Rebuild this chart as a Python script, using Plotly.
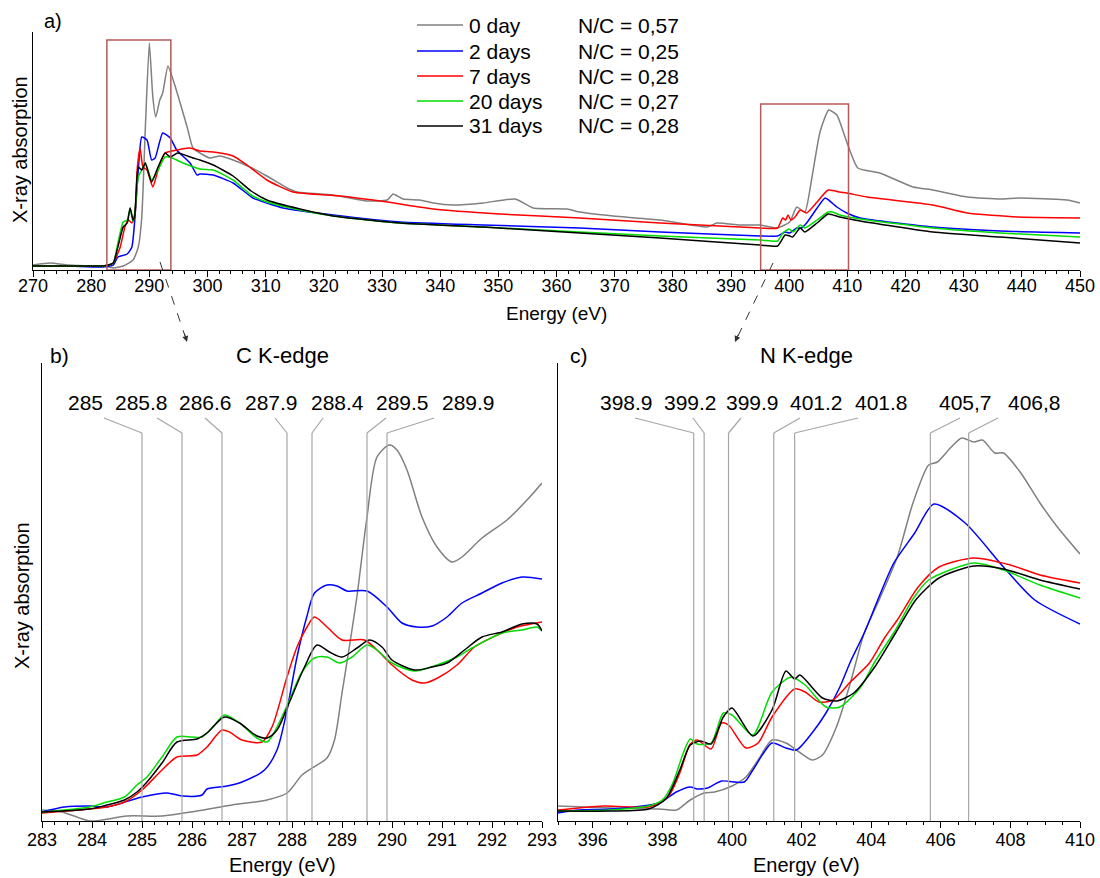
import plotly.graph_objects as go

W, H = 1100, 878
FONT = "Liberation Sans, Arial, sans-serif"

# ---------------- data ----------------
series_names = ["0 day", "2 days", "7 days", "20 days", "31 days"]
nc_labels = ["N/C = 0,57", "N/C = 0,25", "N/C = 0,28", "N/C = 0,27", "N/C = 0,28"]
series_colors = ["#808080", "#0000ff", "#ff0000", "#00dd00", "#000000"]

# a) survey spectra 270-450 eV (arbitrary units)
survey_0d_e = [270, 273, 276, 280, 282, 283, 283.8, 285.5, 287.2, 288.1, 288.7, 289.3, 290.0, 290.6, 291.1,
               291.8, 292.3, 293.2, 294.1, 295.3, 296.5, 297.5, 298.7, 300.4, 302.1, 304.4, 307.3, 310.2,
               313.7, 315.4, 321.6, 327.4, 330.9, 331.9, 333.6, 336.5, 338.8, 342.2, 347.4, 352.9, 356,
               361.8, 364, 369.7, 377.8, 385.9, 387.6, 391.5, 395, 397.9, 400.1, 401.3, 402.7, 403.9,
               405.3, 406.8, 408.2, 409.9, 411.8, 415.6, 421.3, 424.7, 430.6, 436.3, 439.7, 447.8, 450]
survey_0d_a = [5, 7, 5, 4, 4, 3, 2, 4, 10, 23, 53, 140, 227, 173, 153,
               170, 177, 204, 190, 167, 143, 122, 117, 112, 114, 110, 103, 94,
               82, 78, 75, 69, 70, 76, 71, 70, 67, 65, 67, 71, 62,
               61, 58, 54, 50, 43, 47, 45, 45, 42, 48, 63, 58, 92,
               138, 160, 155, 128, 102, 97, 83, 80, 73, 71, 72, 70, 67]

survey_2d_e = [270, 276, 282, 283.8, 284.6, 286.2, 287, 287.5, 288.1, 288.7, 289.6, 290.4, 291, 292.3, 293.6,
               294.7, 297, 298.2, 298.7, 301, 304.4, 307.8, 310.2, 313, 321.6, 333.1, 347.4, 364, 377.8,
               395, 398, 399.3, 400.1, 401.3, 402.1, 403, 404.8, 406.2, 408.2, 409.9, 412.2, 424.7, 436.3, 450]
survey_2d_a = [4, 4, 3, 5, 13, 16, 23, 50, 100, 133, 130, 110, 112, 137, 132,
               120, 107, 95, 96, 95, 87, 72, 67, 62, 55, 48, 45, 42, 38,
               34, 34, 38, 37, 42, 42, 47, 62, 72, 63, 57, 52, 43, 39, 37]

survey_7d_e = [270, 276, 282, 283, 283.8, 285, 285.8, 286.4, 287, 287.5, 287.9, 288.4, 288.9, 289.6, 290.6,
               291.5, 292.7, 293.9, 297, 298.7, 301, 304.4, 307, 310.2, 314.7, 322.8, 330.9, 338.8, 350.3,
               364, 377.8, 395, 398, 398.9, 399.4, 399.8, 400.3, 401, 401.9, 403, 404.8, 406.7, 408.7,
               409.9, 413.4, 424.7, 430.6, 439.2, 450]
survey_7d_a = [4, 4, 4, 5, 7, 23, 43, 50, 47, 53, 100, 122, 103, 100, 83,
               100, 117, 119, 122, 119, 118, 114, 104, 90, 78, 74, 68, 61, 56,
               52, 47, 42, 42, 52, 50, 55, 50, 53, 60, 57, 68, 80, 78,
               77, 73, 65, 57, 53, 52]

survey_20d_e = [270, 276, 282, 283, 283.8, 284.6, 285.5, 286.2, 286.7, 287.2, 287.5, 288.1, 288.7, 289.3, 290.4,
                291.5, 292.7, 293.9, 295.8, 298.7, 301, 304.4, 307.5, 310.2, 315.9, 321.6, 333.1, 347.4,
                364, 377.8, 395, 398, 398.9, 400, 400.7, 401.9, 402.7, 404.8, 406.7, 407.5, 408.7, 412.2,
                424.7, 436.3, 450]
survey_20d_a = [4, 4, 4, 5, 7, 27, 48, 50, 62, 48, 57, 93, 100, 107, 90,
                100, 113, 112, 107, 101, 100, 90, 75, 68, 60, 54, 47, 43,
                38, 34, 30, 29, 37, 41, 38, 45, 42, 50, 58, 58, 55, 51,
                42, 37, 33]

survey_31d_e = [270, 276, 282, 283, 283.8, 284.6, 285.5, 286.2, 286.7, 287.2, 287.5, 288.1, 288.7, 289.3, 290.4,
                291.5, 292.7, 293.6, 294.9, 297.5, 298.7, 301, 304.4, 307.5, 310.2, 315.9, 321.6, 333.1,
                347.4, 364, 377.8, 395, 398, 399.3, 400.1, 400.6, 401.9, 402.7, 404.8, 406.7, 408.7, 412.2,
                424.7, 436.3, 450]
survey_31d_a = [4, 4, 4, 5, 7, 23, 43, 47, 62, 50, 55, 103, 100, 107, 88,
                103, 117, 113, 117, 112, 110, 105, 94, 79, 70, 61, 54, 47,
                43, 37, 32, 25, 24, 35, 34, 33, 42, 38, 47, 56, 53, 49,
                38, 33, 27]

# b) C K-edge 283-293 eV
ck_0d_e = [283, 283.4, 283.95, 284.2, 284.7, 285.4, 286.1, 286.8, 287.5, 287.9, 288.2, 288.4, 288.7, 288.85,
           289.0, 289.15, 289.3, 289.5, 289.7, 289.95, 290.1, 290.3, 290.6, 290.9, 291.2, 291.4, 291.8,
           292.3, 292.7, 293]
ck_0d_a = [11, 9, 0, 1, 5, 5, 10, 16, 21, 28, 46, 53, 63, 81,
           128, 175, 225, 304, 364, 376, 371, 351, 304, 274, 259, 264, 283,
           301, 321, 338]

ck_2d_e = [283, 283.45, 283.95, 284.3, 285, 285.5, 285.8, 286.2, 286.3, 286.7, 287.0, 287.45, 287.7, 287.9,
           288.1, 288.3, 288.45, 288.7, 288.9, 289.1, 289.5, 289.9, 290.2, 290.5, 290.8, 291.1, 291.4,
           291.8, 292.2, 292.6, 293]
ck_2d_a = [9, 14, 15, 14, 24, 28, 25, 26, 32, 35, 39, 51, 71, 111,
           164, 205, 228, 236, 235, 230, 230, 214, 198, 194, 195, 204, 218,
           228, 238, 244, 242]

ck_7d_e = [283, 283.95, 284.3, 284.65, 285, 285.4, 285.7, 286.1, 286.3, 286.6, 286.75, 287, 287.4, 287.6,
           287.9, 288.1, 288.3, 288.45, 288.7, 289.0, 289.45, 289.7, 290.0, 290.4, 290.65, 290.95, 291.3,
           291.65, 292.2, 292.5, 293]
ck_7d_a = [8, 12, 14, 19, 31, 51, 64, 66, 74, 91, 89, 81, 79, 94,
           144, 174, 194, 204, 194, 181, 181, 171, 156, 141, 138, 144, 156,
           174, 188, 194, 199]

ck_20d_e = [283, 283.95, 284.3, 284.65, 284.9, 285.1, 285.4, 285.7, 286.0, 286.2, 286.45, 286.65, 286.95, 287.3,
            287.5, 287.7, 287.95, 288.2, 288.45, 288.7, 288.95, 289.2, 289.5, 289.7, 290.0, 290.45, 290.9,
            291.3, 291.6, 292.2, 292.6, 292.9, 293]
ck_20d_a = [9, 14, 19, 24, 36, 44, 64, 84, 84, 84, 96, 106, 98, 83,
            79, 94, 121, 149, 163, 164, 158, 164, 176, 171, 158, 150, 156,
            164, 173, 188, 191, 194, 190]

ck_31d_e = [283, 283.95, 284.3, 284.65, 284.9, 285.1, 285.4, 285.7, 286.1, 286.3, 286.65, 286.95, 287.3, 287.5,
            287.7, 287.95, 288.25, 288.5, 288.75, 289.0, 289.3, 289.55, 289.8, 290.0, 290.45, 290.8, 291.1,
            291.45, 291.8, 292.2, 292.6, 292.9, 293]
ck_31d_a = [9, 12, 16, 21, 29, 39, 58, 79, 82, 88, 104, 98, 85, 83,
            91, 119, 154, 176, 169, 164, 173, 181, 174, 161, 151, 154, 158,
            171, 184, 189, 197, 197, 190]

# c) N K-edge 395-410 eV
nk_0d_e = [395, 396.5, 397.9, 398.4, 398.8, 399.2, 399.5, 400.0, 400.4, 400.75, 401.15, 401.55, 401.85, 402.3,
           402.6, 403.0, 403.4, 403.8, 404.15, 404.75, 405.2, 405.65, 405.9, 406.3, 406.6, 406.95, 407.2,
           407.55, 407.8, 408.3, 408.85, 409.35, 410]
nk_0d_a = [15, 13, 12, 11, 21, 28, 29, 35, 44, 61, 81, 78, 71, 61,
           66, 94, 138, 188, 215, 264, 318, 356, 359, 374, 383, 379, 381,
           368, 368, 348, 318, 294, 267]

nk_2d_e = [395, 395.6, 396.5, 397.9, 398.4, 398.8, 399.0, 399.3, 399.7, 400.35, 400.6, 401.15, 401.55, 401.85,
           402.3, 402.7, 403.1, 403.4, 403.8, 404.2, 404.65, 405.25, 405.8, 406.7, 407.8, 408.7, 410]
nk_2d_a = [8, 11, 12, 18, 29, 34, 32, 33, 40, 39, 51, 78, 73, 71,
           88, 108, 134, 159, 188, 222, 258, 288, 317, 298, 254, 221, 197]

nk_7d_e = [395, 396.3, 397.6, 397.9, 398.2, 398.5, 398.8, 399.0, 399.4, 399.7, 399.9, 400.4, 400.75, 401.15,
           401.8, 402.1, 402.5, 402.9, 403.4, 403.95, 404.4, 404.75, 405.35, 405.95, 406.95, 408, 408.85, 410]
nk_7d_a = [11, 15, 14, 18, 26, 48, 77, 81, 72, 98, 96, 73, 78, 104,
           132, 129, 119, 121, 139, 158, 184, 201, 234, 254, 263, 256, 246, 238]

nk_20d_e = [395, 396.5, 397.6, 398.0, 398.3, 398.6, 398.8, 399.0, 399.4, 399.75, 400.0, 400.6, 401.15, 401.7,
            402.1, 402.7, 403.1, 403.7, 404.1, 404.7, 405.2, 405.65, 406.95, 407.8, 408.85, 410]
nk_20d_a = [10, 11, 15, 21, 38, 68, 82, 77, 78, 108, 106, 86, 129, 144,
            136, 114, 114, 134, 159, 191, 222, 241, 258, 251, 236, 223]

nk_31d_e = [395, 396.5, 397.6, 398.1, 398.5, 398.8, 399.1, 399.4, 399.75, 400.0, 400.6, 401.15, 401.55, 401.8,
            401.95, 402.6, 403.0, 403.5, 404.1, 404.7, 405.3, 405.95, 406.95, 407.8, 408.85, 410]
nk_31d_a = [10, 10, 12, 22, 51, 76, 80, 77, 104, 113, 85, 111, 150, 142,
            146, 123, 120, 128, 154, 188, 222, 243, 255, 252, 241, 232]

# peak assignments
c_peaks = [285, 285.8, 286.6, 287.9, 288.4, 289.5, 289.9]
c_peak_labels = ["285", "285.8", "286.6", "287.9", "288.4", "289.5", "289.9"]
n_peaks = [398.9, 399.2, 399.9, 401.2, 401.8, 405.7, 406.8]
n_peak_labels = ["398.9", "399.2", "399.9", "401.2", "401.8", "405,7", "406,8"]

# zoom windows marked on the survey
c_window = [282.7, 293.7]
n_window = [395.1, 410.2]

# ---------------- layout helpers ----------------
def px(x):
    return x / W

def py(y):
    return 1 - y / H

TOP = dict(x=(33, 1080), y=(32, 270), r=(270, 450))
BL = dict(x=(42, 542), y=(363, 821), r=(283, 293))
BR = dict(x=(558, 1080), y=(363, 821), r=(395, 410))

def data_to_px(panel, e):
    (x0, x1), (r0, r1) = panel["x"], panel["r"]
    return x0 + (e - r0) / (r1 - r0) * (x1 - x0)

fig = go.Figure()

survey = [(survey_0d_e, survey_0d_a), (survey_2d_e, survey_2d_a), (survey_7d_e, survey_7d_a),
          (survey_20d_e, survey_20d_a), (survey_31d_e, survey_31d_a)]
ck = [(ck_0d_e, ck_0d_a), (ck_2d_e, ck_2d_a), (ck_7d_e, ck_7d_a), (ck_20d_e, ck_20d_a), (ck_31d_e, ck_31d_a)]
nk = [(nk_0d_e, nk_0d_a), (nk_2d_e, nk_2d_a), (nk_7d_e, nk_7d_a), (nk_20d_e, nk_20d_a), (nk_31d_e, nk_31d_a)]

for data, xa, ya, sm in [(survey, "x", "y", 0.5), (ck, "x2", "y2", 0.8), (nk, "x3", "y3", 0.7)]:
    for i, (e, a) in enumerate(data):
        fig.add_trace(go.Scatter(x=e, y=a, mode="lines", name=series_names[i], xaxis=xa, yaxis=ya,
                                 line=dict(color=series_colors[i], width=1.5, shape="spline", smoothing=sm),
                                 showlegend=False, hoverinfo="skip", cliponaxis=True))

tickfont = dict(family=FONT, size=18, color="black")

def xaxis_cfg(panel, dtick, minor, standoff):
    return dict(domain=[px(panel["x"][0]), px(panel["x"][1])], range=list(panel["r"]),
                tick0=panel["r"][0], dtick=dtick, ticks="outside", ticklen=6, tickwidth=1,
                tickcolor="black", showline=True, linecolor="black", linewidth=1, showgrid=False,
                zeroline=False, tickfont=tickfont, automargin=False, ticklabelstandoff=standoff,
                minor=dict(dtick=minor, tick0=panel["r"][0], ticks="outside", ticklen=3,
                           tickcolor="black", showgrid=False))

def yaxis_cfg(panel, rng, anchor):
    return dict(domain=[py(panel["y"][1]), py(panel["y"][0])], range=rng, showticklabels=False,
                ticks="", showline=True, linecolor="black", linewidth=1, showgrid=False,
                zeroline=False, anchor=anchor, automargin=False)

xa1 = xaxis_cfg(TOP, 10, 2, -7); xa1["anchor"] = "y"
xa2 = xaxis_cfg(BL, 1, 0.25, -4); xa2["anchor"] = "y2"
xa3 = xaxis_cfg(BR, 2, 0.5, -4); xa3["anchor"] = "y3"; xa3["tick0"] = 396; xa3["minor"]["tick0"] = 396

fig.update_layout(
    template="none",
    width=W, height=H, margin=dict(l=0, r=0, t=0, b=0, pad=0), autosize=False,
    paper_bgcolor="white", plot_bgcolor="white",
    font=dict(family=FONT, color="black"),
    xaxis=xa1, yaxis=yaxis_cfg(TOP, [0, 238], "x"),
    xaxis2=xa2, yaxis2=yaxis_cfg(BL, [0, 458], "x2"),
    xaxis3=xa3, yaxis3=yaxis_cfg(BR, [0, 458], "x3"),
)

shapes = []
annotations = []

# zoom windows on the survey
rect_col = "#b55a5a"
shapes.append(dict(type="rect", xref="x", yref="y", x0=c_window[0], x1=c_window[1], y0=0, y1=230,
                   line=dict(color=rect_col, width=1.5)))
shapes.append(dict(type="rect", xref="x", yref="y", x0=n_window[0], x1=n_window[1], y0=0, y1=166,
                   line=dict(color=rect_col, width=1.5)))

# dashed arrows
for (x0, y0, x1, y1) in [(160, 262, 185, 336), (773, 263, 738, 336)]:
    shapes.append(dict(type="line", xref="paper", yref="paper", x0=px(x0), y0=py(y0), x1=px(x1), y1=py(y1),
                       line=dict(color="#333333", width=1, dash="dash")))
for (tx, ty, ax, ay) in [(187, 342, -3, -10), (735, 342, 4, -9)]:
    annotations.append(dict(x=px(tx), y=py(ty), xref="paper", yref="paper", text="", showarrow=True,
                            ax=ax, ay=ay, arrowhead=2, arrowsize=1.2, arrowwidth=1, arrowcolor="#333333",
                            standoff=0))

# peak marker lines with leaders
lead_col = "#a6a6a6"
label_font = dict(family=FONT, size=21, color="black")
c_label_cx = [85, 141, 205, 271, 337, 402, 468]
c_lead_x = [104, 157, 205, 275, 323, 386, 434]
n_label_cx = [626, 690, 752, 816, 882, 965, 1034]
n_lead_x = [635, 693, 741, 800, 858, 960, 998]
for panel, peaks, labels, cx, lx, xr in [(BL, c_peaks, c_peak_labels, c_label_cx, c_lead_x, "x2"),
                                          (BR, n_peaks, n_peak_labels, n_label_cx, n_lead_x, "x3")]:
    for e, lab, c, l in zip(peaks, labels, cx, lx):
        xp = data_to_px(panel, e)
        shapes.append(dict(type="line", xref=xr, yref="paper", x0=e, x1=e, y0=py(433), y1=py(panel["y"][1]),
                           line=dict(color=lead_col, width=1.2)))
        shapes.append(dict(type="line", xref="paper", yref="paper", x0=px(l), y0=py(418), x1=px(xp), y1=py(433),
                           line=dict(color=lead_col, width=1.2)))
        annotations.append(dict(x=px(c), y=py(402), xref="paper", yref="paper", text=lab, showarrow=False,
                                font=label_font, xanchor="center", yanchor="middle"))

# legend (manual, two text columns)
leg_rows = [25, 51, 76, 101, 126]
for i, yrow in enumerate(leg_rows):
    shapes.append(dict(type="line", xref="paper", yref="paper", x0=px(417), x1=px(463), y0=py(yrow), y1=py(yrow),
                       line=dict(color=series_colors[i], width=1.5)))
    annotations.append(dict(x=px(467), y=py(yrow), xref="paper", yref="paper", text=series_names[i],
                            showarrow=False, xanchor="left", yanchor="middle",
                            font=dict(family=FONT, size=21, color="black")))
    annotations.append(dict(x=px(576), y=py(yrow), xref="paper", yref="paper", text=nc_labels[i],
                            showarrow=False, xanchor="left", yanchor="middle",
                            font=dict(family=FONT, size=21, color="black")))

# titles and axis labels
def txt(x, y, s, size, angle=0):
    annotations.append(dict(x=px(x), y=py(y), xref="paper", yref="paper", text=s, showarrow=False,
                            xanchor="center", yanchor="middle", textangle=angle,
                            font=dict(family=FONT, size=size, color="black")))

txt(53, 21, "a)", 20)
txt(20, 150, "X-ray absorption", 20, -90)
txt(556, 313, "Energy (eV)", 19)
txt(59, 355, "b)", 21)
txt(282, 355, "C K-edge", 22)
txt(579, 355, "c)", 21)
txt(806, 355, "N K-edge", 22)
txt(22, 596, "X-ray absorption", 20, -90)
txt(282, 865, "Energy (eV)", 20)
txt(806, 865, "Energy (eV)", 20)

fig.update_layout(shapes=shapes, annotations=annotations)
fig.write_html("out.html")
